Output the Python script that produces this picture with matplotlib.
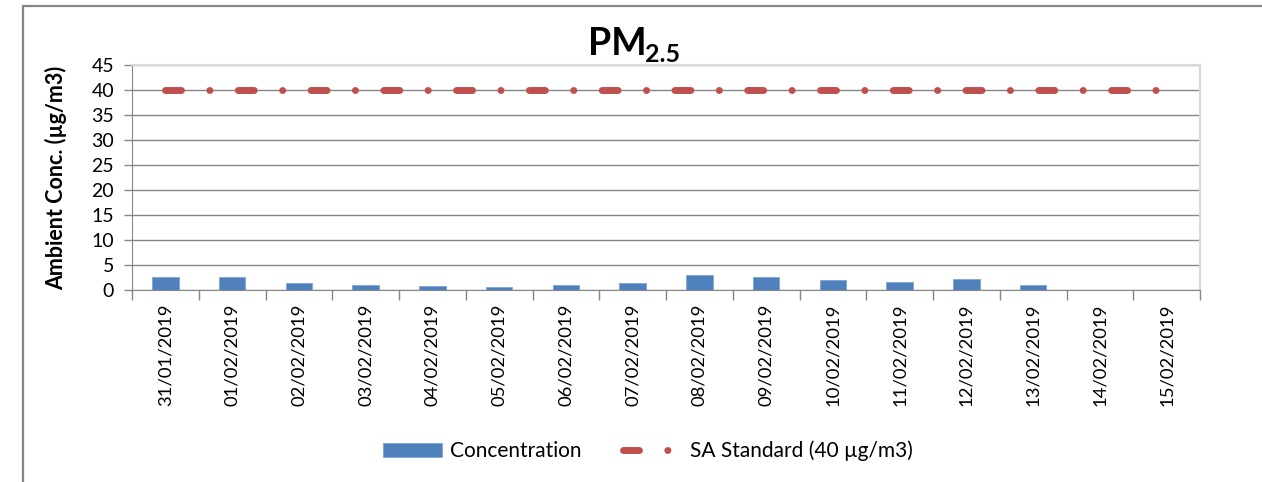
import matplotlib.pyplot as plt
from matplotlib.patches import Rectangle, Patch
from matplotlib.lines import Line2D

plt.rcParams['font.family'] = ['Lato', 'DejaVu Sans']
plt.rcParams['lines.scale_dashes'] = False

# data
dates = ['31/01/2019', '01/02/2019', '02/02/2019', '03/02/2019', '04/02/2019',
         '05/02/2019', '06/02/2019', '07/02/2019', '08/02/2019', '09/02/2019',
         '10/02/2019', '11/02/2019', '12/02/2019', '13/02/2019', '14/02/2019',
         '15/02/2019']
concentration = [2.6, 2.6, 1.5, 1.0, 0.8, 0.6, 1.0, 1.5, 3.1, 2.6,
                 2.1, 1.7, 2.3, 1.0, 0.0, 0.0]
sa_standard = [40] * 16
yticks = [0, 5, 10, 15, 20, 25, 30, 35, 40, 45]

blue = '#4F81BD'
red = '#C0504D'
W, H = 1262, 482

fig = plt.figure(figsize=(W / 100, H / 100), dpi=100)
ax = fig.add_axes([132 / W, 1 - 290 / H, (1200 - 132) / W, (290 - 65) / H])

x = list(range(len(dates)))
ax.bar(x, concentration, width=0.4, color=blue, edgecolor='#7FA4D3', linewidth=0.6, zorder=3)

dash = (0, (11.5, 20.4, 0.1, 20.4))
ax.plot(x, sa_standard, color=red, linewidth=5, linestyle=dash,
        dash_capstyle='round', zorder=4)

ax.set_xlim(-0.5, len(dates) - 0.5)
ax.set_ylim(0, 45)
ax.set_yticks(yticks)
ax.set_xticks(x)
ax.set_xticklabels(dates, rotation=90, fontsize=13.3)
ax.set_xticks([i - 0.5 for i in range(len(dates) + 1)], minor=True)
ax.tick_params(axis='x', which='major', length=0, pad=10)
ax.tick_params(axis='x', which='minor', length=7, color='#868686', width=1)
ax.tick_params(axis='y', length=6, color='#868686', width=1, labelsize=14, pad=7)

ax.grid(axis='y', color='#868686', linewidth=1, zorder=0)
ax.set_axisbelow(True)
for side in ['left', 'bottom']:
    ax.spines[side].set_color('#868686')
for side in ['top', 'right']:
    ax.spines[side].set_color('#D9D9D9')
    ax.spines[side].set_linewidth(1.5)

ax.set_ylabel('Ambient Conc. (µg/m3)', fontsize=15.5, fontweight='bold', labelpad=17)

# title PM2.5 with subscript
t = fig.text(588 / W, 1 - 55 / H, 'PM', fontsize=27, fontweight='bold',
             ha='left', va='baseline')
ax.annotate('2.5', xy=(1, 0), xycoords=t, xytext=(-1, -1), textcoords='offset points',
            fontsize=18, fontweight='bold', ha='left', va='baseline',
            annotation_clip=False)

handles = [Patch(facecolor=blue, edgecolor='#7FA4D3', linewidth=0.6),
           Line2D([0], [0], color=red, linewidth=5, linestyle=dash, dash_capstyle='round')]
fig.legend(handles, ['Concentration', 'SA Standard (40 µg/m3)'],
           loc='center', bbox_to_anchor=(648 / W, 1 - 451 / H), ncol=2,
           frameon=False, fontsize=15, handlelength=2.8, handletextpad=0.4,
           columnspacing=2.0)

# outer chart border
fig.patches.append(Rectangle((23 / W, -0.1), 1.1, 1.1 - 6 / H, transform=fig.transFigure,
                             fill=False, edgecolor='#878787', linewidth=1.6))

fig.savefig('out.png', dpi=100)
